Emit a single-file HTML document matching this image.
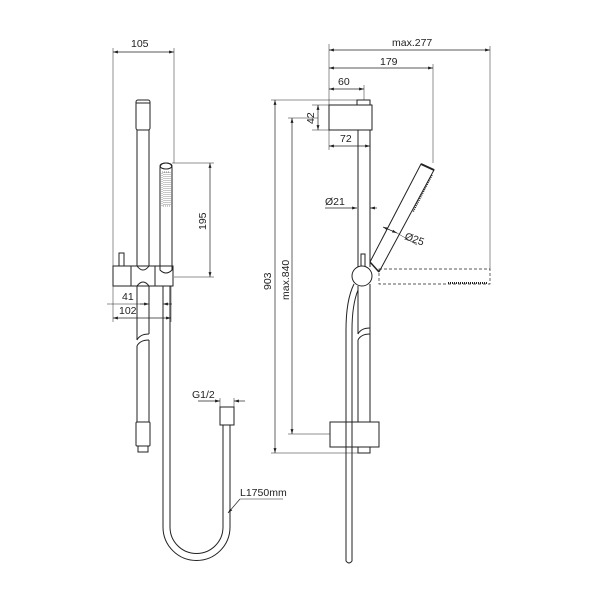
<!DOCTYPE html>
<html><head><meta charset="utf-8"><style>
html,body{margin:0;padding:0;background:#fff}
svg{display:block}
text{font-family:"Liberation Sans",sans-serif;font-size:10.5px;fill:#222}
</style></head><body>
<svg width="603" height="603" viewBox="0 0 603 603" xmlns="http://www.w3.org/2000/svg">
<defs>
<marker id="a" viewBox="0 0 10 10" refX="10" refY="5" markerWidth="7" markerHeight="7" orient="auto-start-reverse"><path d="M0,2 L10,5 L0,8z" fill="#222"/></marker>
</defs>
<g fill="none" stroke="#222" stroke-width="1">
<line x1="113" y1="52" x2="174" y2="52" marker-start="url(#a)" marker-end="url(#a)" stroke-width="0.7"/>
<line x1="113" y1="48" x2="113" y2="266" stroke-width="0.5"/>
<line x1="174" y1="48" x2="174" y2="163" stroke-width="0.5"/>
<rect x="136" y="100" width="14" height="30" rx="2"/>
<line x1="136" y1="103" x2="150" y2="103"/>
<line x1="137" y1="130" x2="137" y2="266"/><line x1="149" y1="130" x2="149" y2="266"/>
<rect x="119" y="253" width="5" height="13"/>
<path d="M113,266 H173 V286 H113 Z"/>
<line x1="131" y1="266" x2="131" y2="286"/>
<line x1="155" y1="266" x2="155" y2="286"/>
<path d="M137,266 Q143,274 149,266"/>
<path d="M137,286 Q143,278 149,286"/>
<path d="M160,168 Q160,163 166,163 Q172,163 172,168 V270 Q166,276 160,270 Z"/>
<ellipse cx="166" cy="166" rx="6" ry="3"/>
<rect x="162" y="172" width="8" height="34" stroke-width="0.5" stroke-dasharray="1,1"/>
<line x1="164" y1="172" x2="164" y2="206" stroke-width="0.5" stroke-dasharray="1,1"/>
<line x1="166" y1="172" x2="166" y2="206" stroke-width="0.5" stroke-dasharray="1,1"/>
<line x1="168" y1="172" x2="168" y2="206" stroke-width="0.5" stroke-dasharray="1,1"/>
<line x1="172" y1="163" x2="214" y2="163" stroke-width="0.5"/>
<line x1="174" y1="277" x2="214" y2="277" stroke-width="0.5"/>
<line x1="210" y1="163" x2="210" y2="277" marker-start="url(#a)" marker-end="url(#a)" stroke-width="0.7"/>
<line x1="149" y1="286" x2="149" y2="310" stroke-width="0.5"/>
<line x1="163" y1="286" x2="163" y2="310" stroke-width="0.5"/>
<line x1="171" y1="286" x2="171" y2="322" stroke-width="0.5"/>
<line x1="113" y1="286" x2="113" y2="322" stroke-width="0.5"/>
<line x1="140" y1="304" x2="149" y2="304" marker-end="url(#a)" stroke-width="0.7"/>
<line x1="172" y1="304" x2="163" y2="304" marker-end="url(#a)" stroke-width="0.7"/>
<line x1="113" y1="318" x2="171" y2="318" marker-start="url(#a)" marker-end="url(#a)" stroke-width="0.7"/>
<line x1="107" y1="304" x2="149" y2="304" stroke-width="0.5"/>
<line x1="137" y1="286" x2="137" y2="340"/><line x1="149" y1="286" x2="149" y2="334"/>
<path d="M137,340 Q140,334 149,334"/><path d="M137,346 Q140,340 149,340"/>
<line x1="137" y1="346" x2="137" y2="422"/><line x1="149" y1="340" x2="149" y2="422"/>
<rect x="136" y="422" width="14" height="24" rx="1"/>
<rect x="138" y="446" width="10" height="6"/>
<path d="M163,286 V527 A33,33 0 0 0 230,527 V425"/>
<path d="M170,286 V527 A26,26 0 0 0 223,527 V425"/>
<rect x="220" y="407" width="14" height="18"/>
<line x1="198" y1="401" x2="220" y2="401" marker-end="url(#a)" stroke-width="0.7"/>
<line x1="245" y1="401" x2="234" y2="401" marker-end="url(#a)" stroke-width="0.7"/>
<line x1="220" y1="398" x2="220" y2="407" stroke-width="0.5"/>
<line x1="234" y1="398" x2="234" y2="407" stroke-width="0.5"/>
<line x1="240" y1="499" x2="283" y2="499" stroke-width="0.5"/>
<line x1="240" y1="499" x2="228" y2="513" marker-end="url(#a)" stroke-width="0.7"/>
<line x1="329" y1="44" x2="329" y2="105" stroke-width="0.5"/>
<line x1="490" y1="46" x2="490" y2="269" stroke-width="0.5"/>
<line x1="433" y1="64" x2="433" y2="163" stroke-width="0.5"/>
<line x1="364" y1="85" x2="364" y2="100" stroke-width="0.5"/>
<line x1="329" y1="50" x2="490" y2="50" marker-start="url(#a)" marker-end="url(#a)" stroke-width="0.7"/>
<line x1="329" y1="68" x2="433" y2="68" marker-start="url(#a)" marker-end="url(#a)" stroke-width="0.7"/>
<line x1="329" y1="89" x2="364" y2="89" marker-start="url(#a)" marker-end="url(#a)" stroke-width="0.7"/>
<line x1="329" y1="130" x2="329" y2="150" stroke-width="0.5"/>
<line x1="370" y1="130" x2="370" y2="150" stroke-width="0.5"/>
<line x1="329" y1="146" x2="370" y2="146" marker-start="url(#a)" marker-end="url(#a)" stroke-width="0.7"/>
<line x1="312" y1="105" x2="329" y2="105" stroke-width="0.5"/>
<line x1="312" y1="130" x2="329" y2="130" stroke-width="0.5"/>
<line x1="318" y1="105" x2="318" y2="130" marker-start="url(#a)" marker-end="url(#a)" stroke-width="0.7"/>
<line x1="271" y1="100" x2="357" y2="100" stroke-width="0.5"/>
<line x1="275" y1="100" x2="275" y2="453" marker-start="url(#a)" marker-end="url(#a)" stroke-width="0.7"/>
<line x1="271" y1="453" x2="358" y2="453" stroke-width="0.5"/>
<line x1="288" y1="118" x2="318" y2="118" stroke-width="0.5"/>
<line x1="292" y1="118" x2="292" y2="434" marker-start="url(#a)" marker-end="url(#a)" stroke-width="0.7"/>
<line x1="288" y1="434" x2="330" y2="434" stroke-width="0.5"/>
<rect x="357" y="100" width="13" height="5"/>
<rect x="329" y="105" width="43" height="25"/>
<line x1="358" y1="130" x2="358" y2="267"/><line x1="370" y1="130" x2="370" y2="267"/>
<line x1="325" y1="208" x2="357" y2="208" marker-end="url(#a)" stroke-width="0.7"/>
<line x1="377" y1="208" x2="370" y2="208" marker-end="url(#a)" stroke-width="0.7"/>
<path d="M370,262 L421,164 L434,170 L379,272"/>
<line x1="421" y1="164" x2="434" y2="170" stroke-width="2"/>
<line x1="432" y1="175" x2="413" y2="212" stroke-width="1.5" stroke-dasharray="1,1"/>
<line x1="370" y1="262" x2="379" y2="272" stroke-width="1.5"/>
<rect x="361" y="254" width="4" height="13"/>
<line x1="383" y1="227" x2="397" y2="233" marker-start="url(#a)" marker-end="url(#a)" stroke-width="0.7"/>
<line x1="397" y1="233" x2="417" y2="245" stroke-width="0.5"/>
<circle cx="362" cy="276" r="10" fill="#fff"/>
<rect x="379" y="269" width="111" height="15" stroke-dasharray="3,2" stroke-width="0.7"/>
<line x1="448" y1="283" x2="488" y2="283" stroke-width="2" stroke-dasharray="1,1"/>
<line x1="358" y1="286" x2="358" y2="334"/><line x1="370" y1="284" x2="370" y2="422"/>
<path d="M358,334 Q361,328 370,328"/><path d="M358,340 Q361,334 370,334"/>
<line x1="358" y1="340" x2="358" y2="422"/>
<rect x="330" y="422" width="49" height="25"/>
<rect x="358" y="447" width="12" height="6"/>
<path d="M354,284 Q346,300 346,330 V561 Q349,565 352,561 V330 Q352,305 358,290"/>
</g>
<text x="131" y="47">105</text>
<text x="122" y="300">41</text>
<text x="119" y="314">102</text>
<text x="206" y="230" transform="rotate(-90 206 230)">195</text>
<text x="192" y="398">G1/2</text>
<text x="240" y="496">L1750mm</text>
<text x="392" y="46">max.277</text>
<text x="380" y="65">179</text>
<text x="338" y="85">60</text>
<text x="340" y="142">72</text>
<text x="314" y="124" transform="rotate(-90 314 124)">42</text>
<text x="325" y="205">Ø21</text>
<text x="404" y="239" transform="rotate(20 404 239)">Ø25</text>
<text x="271" y="290" transform="rotate(-90 271 290)">903</text>
<text x="289" y="300" transform="rotate(-90 289 300)">max.840</text>
</svg>
</body></html>
